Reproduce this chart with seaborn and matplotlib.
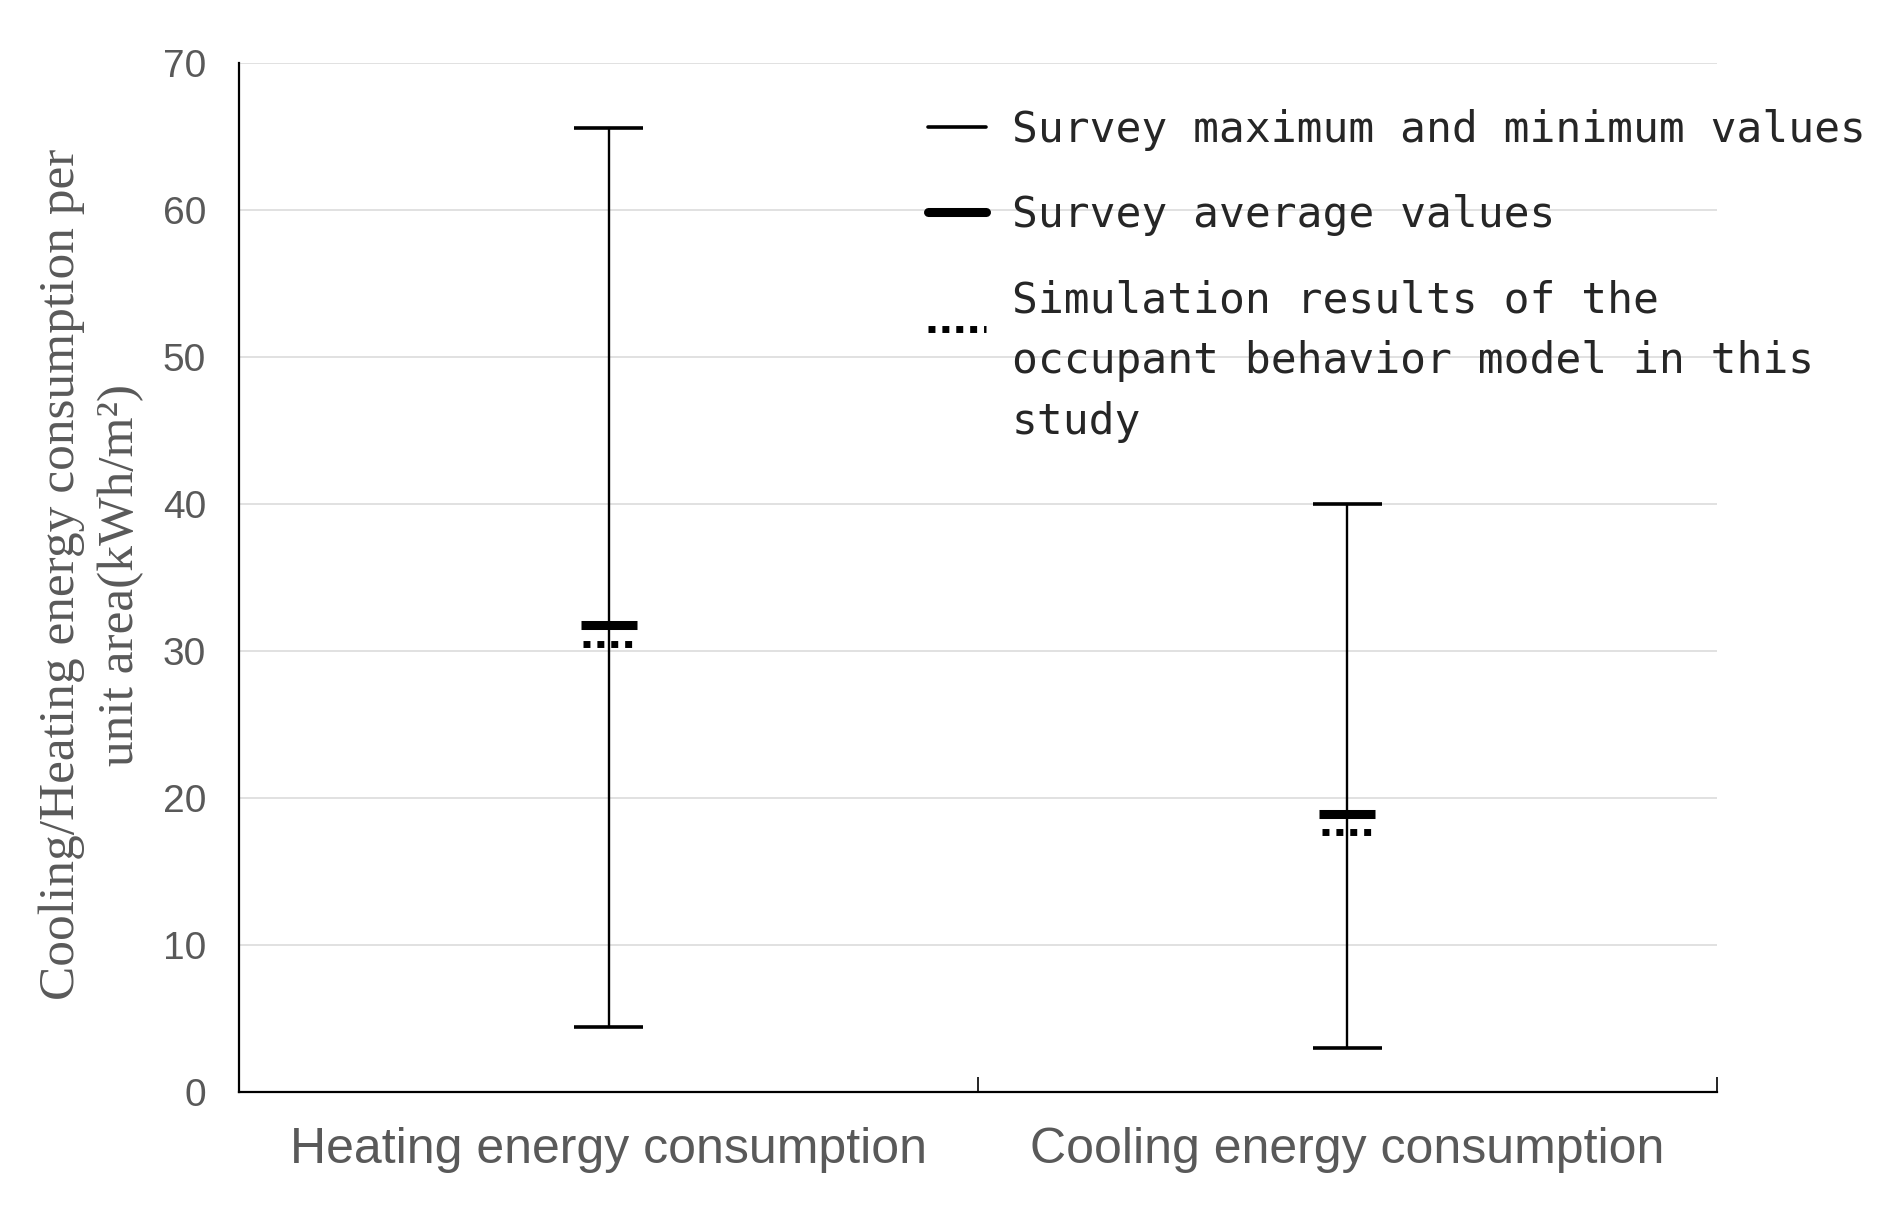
import numpy as np
import pandas as pd
import matplotlib
matplotlib.use("Agg")
import matplotlib.pyplot as plt
from matplotlib.lines import Line2D
import seaborn as sns


# ----------------------------------------------------------
# Data
# ----------------------------------------------------------
categories = ["Heating energy consumption", "Cooling energy consumption"]
survey_max = [65.6, 40.0]
survey_min = [4.4, 3.0]
survey_avg = [31.8, 18.9]
simulation = [30.5, 17.7]

y_ticks = [0, 10, 20, 30, 40, 50, 60, 70]

legend_labels = [
    "Survey maximum and minimum values",
    "Survey average values",
    "Simulation results of the\noccupant behavior model in this\nstudy",
]

GRAY = "#595959"


def main():

    sns.set_theme(style="white")

    fig = plt.figure(figsize=(18.99, 12.07), dpi=100)
    ax = fig.add_axes([0.126, 0.0953, 0.778, 0.8525])

    pos = np.arange(len(categories))

    # vertical range lines (min -> max) through seaborn
    long_df = pd.DataFrame({
        "pos": np.concatenate([pos, pos]),
        "value": survey_min + survey_max,
        "category": categories + categories,
    })
    sns.lineplot(
        data=long_df, x="pos", y="value", units="category",
        estimator=None, color="black", linewidth=1.7,
        sort=False, ax=ax, legend=False
    )

    # caps for max / min
    cap = 0.047
    ax.hlines(survey_max, pos - cap, pos + cap, color="black", linewidth=2.6)
    ax.hlines(survey_min, pos - cap, pos + cap, color="black", linewidth=2.6)

    # survey average
    ax.hlines(survey_avg, pos - 0.038, pos + 0.038, color="black",
              linewidth=6.5)

    # simulation results (dotted)
    ax.hlines(simulation, pos - 0.0345, pos + 0.0345, color="black",
              linewidth=5, linestyles=[(0, (1, 1))])

    # axes styling
    ax.set_xlim(-0.5, 1.5)
    ax.set_ylim(0, 70)
    ax.set_yticks(y_ticks)
    ax.set_xticks(pos)
    ax.set_xticklabels(categories)
    ax.set_xticks([-0.5, 0.5, 1.5], minor=True)
    ax.set_xlabel("")
    ax.set_ylabel("")

    ax.grid(axis="y", color="#d9d9d9", linewidth=1.1)
    ax.set_axisbelow(True)

    sns.despine(ax=ax)
    for side in ["left", "bottom"]:
        ax.spines[side].set_color("black")
        ax.spines[side].set_linewidth(1.6)

    ax.tick_params(axis="x", which="major", length=0, pad=25,
                   labelsize=36, labelcolor=GRAY)
    ax.tick_params(axis="x", which="minor", direction="in", length=11,
                   width=1.2, color="black", bottom=True)
    ax.tick_params(axis="y", length=0, pad=24, labelsize=28,
                   labelcolor=GRAY)
    for lab in ax.get_xticklabels() + ax.get_yticklabels():
        lab.set_fontfamily(["Liberation Sans", "DejaVu Sans"])

    # y label
    fig.text(
        0.048, 0.524,
        "Cooling/Heating energy consumption per\nunit area(kWh/m²)",
        rotation=90, ha="center", va="center", multialignment="center",
        fontsize=37, color=GRAY, family=["Liberation Serif", "DejaVu Serif"],
        linespacing=1.35
    )

    # legend
    handles = [
        Line2D([0], [0], color="black", linewidth=2.6),
        Line2D([0], [0], color="black", linewidth=6.5),
        Line2D([0], [0], color="black", linewidth=5,
               linestyle=(0, (1, 1))),
    ]
    leg = ax.legend(
        handles, legend_labels, loc="upper left",
        bbox_to_anchor=(0.466, 0.955), frameon=False,
        prop={"family": "DejaVu Sans Mono", "size": 31},
        handlelength=1.35, handletextpad=0.6, labelspacing=1.0,
        borderpad=0, borderaxespad=0
    )
    leg.get_texts()[2].set_linespacing(1.57)

    # the dotted handle sits between the first two text lines
    sim_handle = leg.legend_handles[2]
    y0 = np.asarray(sim_handle.get_ydata(), dtype=float)
    sim_handle.set_ydata(y0 + 24)

    fig.savefig("out.png", dpi=100)
    plt.close(fig)


if __name__ == "__main__":
    main()
